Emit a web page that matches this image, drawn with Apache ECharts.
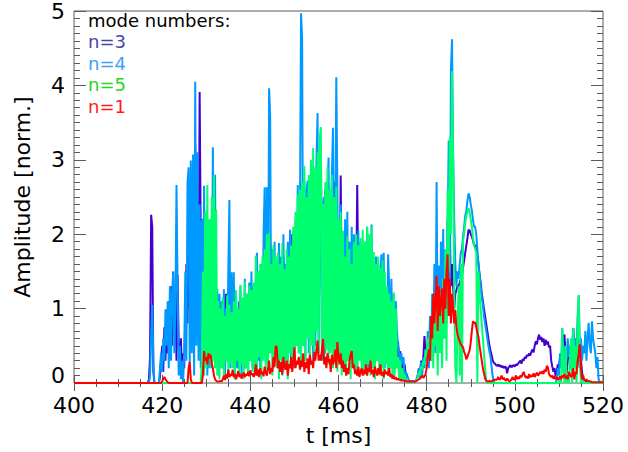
<!DOCTYPE html>
<html>
<head>
<meta charset="utf-8">
<script src="https://cdn.jsdelivr.net/npm/echarts@6/dist/echarts.min.js"></script>
<style>
  html, body { margin: 0; padding: 0; background: #ffffff; }
  #chart { width: 628px; height: 452px; }
</style>
</head>
<body>
<div id="chart"></div>
<script>
// Time window and sampling of the mode-amplitude traces
const T_START = 400;      // left edge of the time window [ms]
const T0 = 416;           // time of the first recorded sample [ms]
const DT = 0.25;          // sample spacing [ms]

const xTicks = [400, 420, 440, 460, 480, 500, 520];
const yTicks = [0, 1, 2, 3, 4, 5];

const legendTitle = 'mode numbers:';
const modeNames = ['n=3', 'n=4', 'n=5', 'n=1'];

// n=3 amplitude (normalised), one row per 5 ms
const n3 = [
  0,0,0,0, 0.05,0.35,2.26,2.1, 0.15,0,0,0, 0,0,0.08,0.3, 0.5,0.15,0.75,0.3,
  0.9,0.4,1.1,0.6, 1.3,0.5,1.5,0.7, 1.2,0.3,1.45,0.5, 0.2,0.6,0.1,0.4, 0.2,0.9,1.6,0.8,
  2.2,1.0,2.6,1.4, 2.9,1.2,3.2,1.8, 2.5,0.8,3.91,2.0, 2.2,1.1,2.15,0.6, 1.6,0.9,2.0,0.7,
  1.5,0.6,2.0,2.73, 1.2,0.5,0.9,0.4, 0.97,0.3,0.8,0.5, 0.9,0.2,1.2,0.6, 0.8,1.4,0.5,0.9,
  1.0,0.4,1.2,0.3, 0.8,0.2,1.1,0.5, 0.7,0.3,1.0,0.2, 0.9,0.4,1.2,0.3, 1.0,0.5,0.8,0.2,
  1.1,0.4,1.3,0.6, 0.9,0.3,1.5,0.5, 1.2,1.8,0.6,1.4, 1.6,0.4,1.9,0.8, 1.3,0.5,1.7,0.6,
  1.4,0.6,1.6,0.5, 1.2,0.4,1.7,0.9, 1.5,0.5,1.3,0.6, 1.8,1.0,2.0,0.7, 1.9,1.2,1.6,0.8,
  2.0,0.9,2.4,1.1, 1.8,0.8,2.2,1.0, 2.3,0.9,2.6,1.2, 2.0,1.0,2.5,1.1, 2.7,1.3,2.4,2.9,
  3.13,1.2,2.3,1.0, 2.6,1.1,2.2,0.9, 2.5,1.3,2.4,1.0, 2.7,1.2,2.2,0.8, 1.9,1.0,2.79,1.1,
  1.8,0.8,1.6,0.7, 1.9,0.9,1.5,0.6, 1.7,0.8,1.4,0.5, 1.2,2.66,1.3,0.6, 1.5,0.7,1.6,0.8,
  1.7,0.6,1.9,0.8, 1.6,0.7,1.4,0.5, 1.3,0.6,1.5,0.4, 1.2,0.5,1.4,0.6, 1.3,0.4,1.1,0.5,
  1.2,0.4,1.0,0.3, 0.9,0.4,0.7,0.3, 0.5,0.2,0.56,0.3, 0.43,0.2,0.35,0.15, 0.25,0.1,0.12,0.05,
  0.04,0.02,0.02,0.02, 0.02,0.02,0.03,0.05, 0.1,0.2,0.15,0.3, 0.2,0.35,0.63,0.4, 0.3,0.5,0.4,0.3,
  0.5,0.9,0.4,1.2, 0.6,1.5,0.8,1.3, 0.7,1.6,0.9,1.4, 1.2,1.8,1.0,2.2, 1.5,2.0,1.3,1.6,
  1.3,1.0,1.2,1.25, 1.3,1.3,1.35,1.4, 1.44,1.55,1.65,1.75, 1.85,1.95,2.06,2.05, 2.0,1.97,1.92,1.85,
  1.85,1.8,1.72,1.6, 1.45,1.35,1.2,1.1, 1.0,0.9,0.8,0.7, 0.6,0.5,0.43,0.37, 0.3,0.27,0.26,0.24,
  0.23,0.25,0.22,0.24, 0.21,0.23,0.2,0.22, 0.21,0.13,0.2,0.22, 0.24,0.21,0.23,0.24, 0.22,0.25,0.24,0.26,
  0.28,0.3,0.26,0.32, 0.3,0.35,0.33,0.38, 0.36,0.4,0.37,0.42, 0.45,0.41,0.5,0.56, 0.52,0.6,0.65,0.58,
  0.62,0.55,0.6,0.5, 0.58,0.52,0.56,0.48, 0.5,0.3,0.22,0.15, 0.2,0.09,0.15,0.25, 0.2,0.34,0.28,0.45,
  0.6,0.65,0.4,0.13, 0.3,0.45,0.35,0.55, 0.4,0.74,0.5,0.3, 0.45,0.61,0.35,0.2, 0.3,0.15,0.05,0.04,
  0.03,0.02,0.02,0.01, 0.01,0.01,0,0, 0,0,0,0, 0,0,0,0, 0
];

// n=4 amplitude
const n4 = [
  0,0,0,0, 0,0.1,0.6,1.05, 0.3,0,0,0, 0,0,0.2,0.4, 0.15,0.6,0.3,0.99,
  0.5,1.1,0.2,1.3, 0.3,1.2,1.49,0.4, 1.0,2.66,1.3,0.1, 0.5,0.05,0.3,0, 0.4,1.5,0.3,2.7,
  2.9,0.2,2.99,0.4, 3.07,0.1,4.05,0.5, 3.1,0.3,2.4,0.2, 2.19,0.1,2.65,0.3, 2.3,0.1,2.0,0.2,
  2.2,0.2,3.17,0.4, 2.8,0.3,1.26,0.1, 1.2,0.3,1.1,0.2, 1.26,0.1,1.0,0.3, 1.5,2.46,0.2,1.49,
  0.3,1.49,0.1,1.2, 0.2,1.0,0.4,1.3, 0.1,1.1,0.3,1.4, 0.2,1.2,0.1,1.35, 0.3,1.5,0.2,1.3,
  0.1,1.4,1.75,0.3, 1.5,0.2,1.6,0.4, 2.0,2.63,0.3,2.63, 0.5,3.96,3.6,0.4, 1.8,0.2,1.9,0.3,
  1.6,0.2,1.88,0.4, 1.7,0.1,2.0,0.3, 1.6,0.2,1.9,0.4, 2.06,0.3,1.8,2.05, 0.2,2.2,0.5,2.66,
  0.4,2.2,4.97,4.63, 0.5,2.72,0.3,2.6, 2.72,0.4,2.7,0.6, 2.9,0.3,2.8,0.5, 3.0,3.63,0.4,2.3,
  2.6,0.3,2.41,2.5, 0.4,2.1,2.6,3.03, 0.5,2.2,2.8,3.43, 0.6,2.0,4.11,2.6, 0.4,2.0,2.4,0.3,
  2.0,0.2,2.2,0.4, 2.3,0.3,1.9,0.2, 2.1,0.5,2.0,0.3, 1.8,0.2,2.05,0.4, 1.9,0.3,1.8,0.2,
  1.9,0.4,2.1,0.2, 1.8,0.3,2.13,0.5, 1.6,0.2,1.7,0.3, 1.6,0.4,1.5,1.73, 0.3,1.75,0.2,1.2,
  0.3,1.73,1.3,0.2, 1.4,0.3,1.2,0.2, 1.1,0.7,0.5,0.43, 0.1,0.4,0.25,0.35, 0.1,0.15,0.1,0.06,
  0.04,0.02,0.02,0.02, 0.02,0.02,0.03,0.06, 0.12,0.2,0.05,0.28, 0.1,0.35,0.2,0.45, 0.3,0.7,0.2,0.9,
  0.3,1.2,0.5,1.6, 0.4,2.7,0.6,1.58, 0.5,1.9,0.7,2.07, 0.6,1.75,0.8,2.0, 3.26,1.0,4.2,4.62,
  3.1,2.2,1.6,1.3, 1.5,1.4,1.6,1.75, 1.8,1.97,2.1,2.25, 2.32,2.45,2.55,2.5, 2.4,2.32,2.2,2.1,
  2.1,2.0,1.8,1.6, 1.45,1.3,1.15,1.05, 0.9,0.8,0.7,0.6, 0.5,0.42,0.35,0.2, 0.08,0.02,0,0,
  0,0,0,0, 0,0,0,0, 0,0,0,0, 0,0,0,0, 0,0,0,0,
  0,0,0,0, 0,0,0,0, 0,0,0,0, 0,0,0,0, 0,0,0,0,
  0,0,0,0, 0,0,0,0, 0,0,0,0, 0,0,0.05,0.2, 0.1,0.4,0.2,0.74,
  0.4,0.2,0.5,0.3, 0.6,0.35,0.5,0.2, 0.45,0.74,0.3,0.6, 0.5,0.9,1.18,0.4, 0.6,0.3,0.5,0.4,
  0.7,0.3,0.6,0.81, 0.5,0.4,0.83,0.6, 0.5,0.4,0.2,0.35, 0.05,0.02,0,0, 0
];

// n=5 amplitude
const n5 = [
  0,0,0,0, 0,0,0,0, 0,0,0,0, 0,0,0,0, 0,0,0,0,
  0,0,0,0, 0,0,0,0, 0,0,0,0, 0,0,0,0, 0,0,0,0,
  0,0,0,0, 0,0,0,0, 0,0,0,0, 0.3,1.5,0.1,2.3, 0.2,2.66,0.3,2.2,
  0.2,2.5,0.3,2.8, 0.2,2.33,0.1,1.1, 0.05,1.0,0.2,1.15, 0.1,0.9,0.3,1.18, 0.15,1.05,0.25,0.95,
  0.2,1.1,0.05,1.25, 0.3,1.0,0.1,1.32, 0.25,1.15,0.05,1.36, 0.2,1.2,0.1,1.3, 0.3,1.25,0.15,1.35,
  0.2,1.71,0.1,1.5, 0.35,1.6,0.05,1.7, 0.3,1.8,0.15,2.0, 0.25,2.02,0.4,1.6, 0.1,1.85,0.3,1.7,
  0.2,1.75,0.05,1.6, 0.3,1.88,0.15,1.53, 0.25,1.8,0.05,1.7, 0.4,1.85,0.2,2.1, 0.3,2.3,0.5,2.53,
  0.4,2.6,0.2,2.7, 0.5,2.92,0.3,2.5, 0.6,2.8,0.35,3.0, 0.5,3.16,0.3,2.9, 0.7,3.1,0.4,3.3,
  3.44,0.5,2.41,0.3, 2.7,0.45,2.9,0.25, 2.6,0.4,2.8,0.2, 2.5,0.35,2.63,0.15, 2.2,0.3,2.3,0.1,
  2.05,0.2,1.7,0.1, 1.97,0.3,1.8,0.05, 1.6,0.25,1.9,0.15, 2.0,0.1,1.85,0.3, 1.95,0.2,2.06,0.1,
  1.9,0.15,2.1,0.25, 2.0,0.1,2.1,0.2, 1.76,0.05,1.6,0.3, 1.7,0.1,1.55,0.2, 1.65,0.05,1.5,0.25,
  1.3,0.1,1.2,0.2, 1.1,0.05,1.22,0.1, 1.0,0.2,0.35,0.05, 0.3,0.02,0.2,0.05, 0.12,0.02,0.06,0.02,
  0.02,0.01,0.01,0.01, 0.01,0.02,0.03,0.05, 0.08,0.15,0.1,0.22, 0.18,0.3,0.25,0.45, 0.35,0.6,0.3,0.7,
  0.3,0.9,0.2,1.0, 0.5,1.2,0.1,1.1, 0.4,1.2,0.2,1.4, 0.6,1.8,0.3,2.6, 1.5,3.3,2.0,4.19,
  3.0,1.2,0.2,0, 0.8,1.3,0.1,1.6, 0,1.9,2.0,2.15, 2.25,2.3,2.35,2.3, 2.2,2.1,1.95,1.85,
  1.8,1.75,0,1.5, 1.2,1.0,0.8,0.6, 0.4,0.2,0.05,0, 0,0,0,0, 0,0,0,0,
  0,0,0,0, 0,0,0,0, 0,0,0,0, 0,0,0,0, 0,0,0,0,
  0,0,0,0, 0,0,0,0, 0,0,0,0, 0,0,0,0, 0,0,0,0,
  0,0,0,0, 0,0,0,0, 0,0,0,0, 0,0,0,0, 0,0.1,0,0.74,
  0.2,0,0.5,0, 0.1,0,0.3,0.6, 0,0.74,0.2,0.5, 0,0.8,1.18,0.3, 0,0.05,0,0,
  0,0,0,0, 0,0,0,0, 0,0,0,0, 0,0,0,0, 0
];

// n=1 amplitude
const n1 = [
  0,0,0,0, 0,0,0,0, 0,0,0,0, 0,0,0,0, 0.02,0.06,0.08,0.05,
  0.03,0.01,0,0, 0,0,0,0, 0,0,0,0, 0,0,0,0, 0,0,0,0,
  0.2,0.28,0.05,0, 0,0,0,0, 0,0,0,0, 0,0.1,0.43,0.3, 0.35,0.25,0.4,0.33,
  0.38,0.25,0.2,0.1, 0.05,0.03,0.02,0.02, 0.02,0.03,0.02,0.05, 0.1,0.04,0.12,0.06, 0.18,0.08,0.12,0.1,
  0.18,0.08,0.12,0.05, 0.1,0.16,0.08,0.12, 0.06,0.1,0.14,0.08, 0.12,0.1,0.15,0.09, 0.17,0.11,0.13,0.08,
  0.12,0.25,0.1,0.18, 0.08,0.2,0.12,0.15, 0.09,0.22,0.14,0.1, 0.19,0.3,0.12,0.2, 0.15,0.35,0.22,0.5,
  0.48,0.2,0.3,0.15, 0.28,0.12,0.35,0.22, 0.18,0.3,0.1,0.25, 0.2,0.35,0.15,0.28, 0.48,0.2,0.3,0.25,
  0.35,0.18,0.3,0.22, 0.4,0.15,0.28,0.2, 0.33,0.12,0.38,0.25, 0.3,0.2,0.42,0.3, 0.45,0.57,0.3,0.38,
  0.3,0.45,0.59,0.25, 0.35,0.2,0.4,0.28, 0.32,0.15,0.38,0.25, 0.3,0.45,0.2,0.55, 0.35,0.25,0.4,0.2,
  0.3,0.15,0.25,0.1, 0.2,0.12,0.3,0.38, 0.43,0.2,0.25,0.12, 0.18,0.1,0.22,0.08, 0.15,0.2,0.1,0.18,
  0.12,0.25,0.1,0.2, 0.15,0.3,0.12,0.18, 0.08,0.22,0.15,0.1, 0.2,0.12,0.25,0.1, 0.15,0.08,0.18,0.12,
  0.15,0.1,0.2,0.08, 0.12,0.06,0.1,0.05, 0.08,0.04,0.06,0.04, 0.05,0.03,0.04,0.03, 0.03,0.03,0.02,0.02,
  0.02,0.02,0.02,0.02, 0.02,0.02,0.02,0.03, 0.04,0.05,0.06,0.08, 0.1,0.07,0.09,0.12, 0.2,0.35,0.45,0.3,
  0.9,0.6,1.2,0.8, 1.1,1.44,0.7,1.3, 0.9,1.1,1.27,0.8, 1.4,1.0,1.5,1.73, 0.9,1.4,0.8,1.2,
  1.0,0.8,0.98,0.75, 0.65,0.6,0.56,0.52, 0.5,0.48,0.42,0.38, 0.32,0.35,0.4,0.44, 0.55,0.7,0.83,0.8,
  0.82,0.75,0.68,0.62, 0.5,0.4,0.3,0.2, 0.13,0.06,0.03,0.02, 0.02,0.03,0.02,0.02, 0.04,0.03,0.05,0.04,
  0.05,0.08,0.04,0.06, 0.1,0.05,0.07,0.04, 0.03,0.06,0.04,0.02, 0.03,0.05,0.08,0.04, 0.06,0.1,0.05,0.08,
  0.06,0.1,0.08,0.12, 0.15,0.1,0.07,0.09, 0.06,0.12,0.08,0.1, 0.09,0.13,0.08,0.11, 0.14,0.1,0.12,0.15,
  0.13,0.16,0.12,0.18, 0.15,0.23,0.21,0.12, 0.1,0.08,0.1,0.06, 0.09,0.05,0.08,0.04, 0.06,0.09,0.05,0.1,
  0.08,0.12,0.06,0.1, 0.05,0.15,0.12,0.08, 0.1,0.2,0.05,0.15, 0.12,0.3,0.39,0.52, 0.2,0.05,0.1,0.04,
  0.03,0.05,0.02,0.03, 0.02,0.02,0.01,0.01, 0.01,0.01,0.01,0.01, 0.01,0.01,0.01,0.01, 0.01
];

const lineColors = ['#4400cc', '#0099ff', '#00ff6e', '#ff0000'];
const textColors = ['#4646a6', '#3aa0f8', '#20d820', '#ff1a1a'];

// pair each amplitude with its sample time; traces are flat zero before the first sample
function toPoints(values) {
  const pts = [[T_START, 0]];
  values.forEach(function (v, i) { pts.push([T0 + i * DT, v]); });
  return pts;
}

const FONT = 'DejaVu Sans';
const axisGray = '#5a5a5a';

function xAxisCommon(pos, showLabels) {
  return {
    type: 'value', position: pos,
    min: xTicks[0], max: xTicks[xTicks.length - 1], interval: xTicks[1] - xTicks[0],
    axisLine: { show: false },
    splitLine: { show: false },
    axisTick: { show: true, inside: true, length: 8, lineStyle: { color: axisGray, width: 1 } },
    minorTick: { show: true, splitNumber: 4, length: 4, lineStyle: { color: axisGray, width: 1 } },
    axisLabel: {
      show: showLabels, color: '#000', fontFamily: FONT, fontSize: 22, margin: 11,
      formatter: function (v) { return String(v); }
    }
  };
}

function yAxisCommon(pos, showLabels) {
  return {
    type: 'value', position: pos,
    min: yTicks[0], max: yTicks[yTicks.length - 1], interval: yTicks[1] - yTicks[0],
    axisLine: { show: false },
    splitLine: { show: false },
    axisTick: { show: true, inside: true, length: 12, lineStyle: { color: axisGray, width: 1 } },
    minorTick: { show: true, splitNumber: 10, length: 6, lineStyle: { color: axisGray, width: 1 } },
    axisLabel: {
      show: showLabels, color: '#000', fontFamily: FONT, fontSize: 22, margin: 9,
      formatter: function (v) { return v === 0 ? '{z|0}' : String(v); },
      rich: { z: { fontFamily: FONT, fontSize: 22, color: '#000', padding: [0, 0, 16, 0] } }
    }
  };
}

const bottomX = xAxisCommon('bottom', true);
bottomX.name = 't [ms]';
bottomX.nameLocation = 'middle';
bottomX.nameGap = 41;
bottomX.nameTextStyle = { color: '#000', fontFamily: FONT, fontSize: 22 };

const leftY = yAxisCommon('left', true);
leftY.name = 'Amplitude [norm.]';
leftY.nameLocation = 'middle';
leftY.nameGap = 41;
leftY.nameTextStyle = { color: '#000', fontFamily: FONT, fontSize: 22 };

const traces = [n3, n4, n5, n1];

const legendTexts = [{ text: legendTitle, color: '#000' }].concat(
  modeNames.map(function (name, i) { return { text: name, color: textColors[i] }; })
);

const chart = echarts.init(document.getElementById('chart'), null, { renderer: 'svg' });
chart.setOption({
  animation: false,
  backgroundColor: '#ffffff',
  grid: { left: 74, right: 25, top: 4, bottom: 69, show: true, borderColor: axisGray, borderWidth: 1 },
  xAxis: [bottomX, xAxisCommon('top', false)],
  yAxis: [leftY, yAxisCommon('right', false)],
  series: traces.map(function (vals, i) {
    return {
      type: 'line', name: modeNames[i], xAxisIndex: 0, yAxisIndex: 0,
      data: toPoints(vals), showSymbol: false, symbol: 'none',
      lineStyle: { color: lineColors[i], width: 2 },
      z: 2 + i
    };
  }),
  graphic: legendTexts.map(function (item, i) {
    return {
      type: 'text', left: 88, top: 11 + i * 21.6, z: 100,
      style: { text: item.text, fill: item.color, font: '18px "DejaVu Sans"', lineHeight: 18 }
    };
  })
});
</script>
</body>
</html>
